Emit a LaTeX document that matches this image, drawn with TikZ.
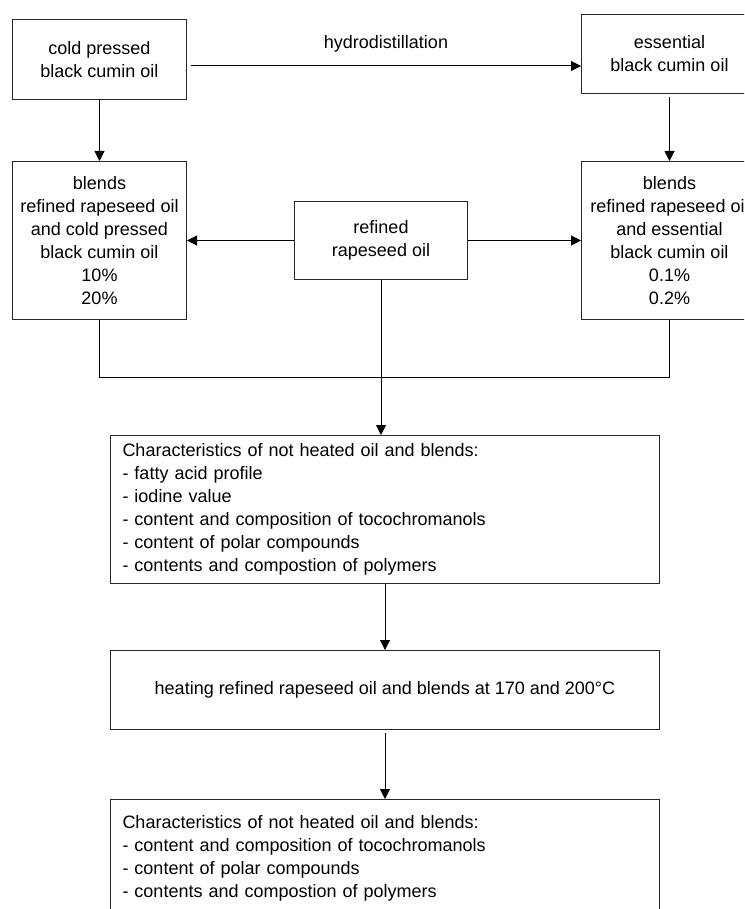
\documentclass[tikz,border=0pt]{standalone}
\usepackage{fontspec}
\setmainfont{Liberation Sans}
\usetikzlibrary{arrows.meta, positioning}
\tikzset{
  box/.style={rectangle, draw=black!85, line width=1pt, anchor=north west,
    align=center, inner sep=0pt, font=\fontsize{18}{23}\selectfont},
  boxL/.style={box, align=left, inner xsep=12pt, text width=525pt},
  arr/.style={-{Triangle[length=10pt, width=10pt]}, line width=1pt},
  ln/.style={line width=1pt},
}
\begin{document}
\begin{tikzpicture}[x=1pt, y=-1pt]
  \clip (0,0) rectangle (744,909);

  % ---- Oils at top ----
  \node[box, minimum width=174pt, minimum height=80pt] (cold)
        at (12,19) {cold pressed\\black cumin oil};
  \node[box, minimum width=176pt, minimum height=79pt] (ess)
        at (581,14) {essential\\black cumin oil};

  % ---- Blends ----
  \node[box, minimum width=174pt, minimum height=158pt] (blendL)
        at (12,161) {blends\\refined rapeseed oil\\and cold pressed\\black cumin oil\\10\%\\20\%};
  \node[box, minimum width=176pt, minimum height=158pt] (blendR)
        at (581,161) {blends\\refined rapeseed oil\\and essential\\black cumin oil\\0.1\%\\0.2\%};
  \node[box, minimum width=173pt, minimum height=78pt] (rsoil)
        at (294,201) {refined\\rapeseed oil};

  % ---- Analyses ----
  \node[boxL, minimum height=148pt] (char1) at (110,435)
        {Characteristics of not heated oil and blends:\\
         - fatty acid profile\\
         - iodine value\\
         - content and composition of tocochromanols\\
         - content of polar compounds\\
         - contents and compostion of polymers};
  \node[box, minimum width=549pt, minimum height=79pt] (heat) at (110,650)
        {heating refined rapeseed oil and blends at 170 and 200°C};
  \node[boxL, minimum height=118pt] (char2) at (110,799)
        {Characteristics of not heated oil and blends:\\
         - content and composition of tocochromanols\\
         - content of polar compounds\\
         - contents and compostion of polymers};

  % ---- Arrows ----
  \draw[arr] ([xshift=4pt, yshift=-6.5pt]cold.east)
        -- ([yshift=-6.5pt]cold.east -| ess.west)
        node[midway, above=10pt] {\fontsize{18}{23}\selectfont hydrodistillation};
  \draw[arr] (cold)   -- (blendL);
  \draw[arr] ([yshift=-3pt]ess.south) -- (blendR);
  \draw[arr] (rsoil)  -- (blendL);
  \draw[arr] (rsoil)  -- (blendR);
  \draw[ln]  (blendL.south) -- ++(0,57) -| (blendR.south);
  \draw[arr] (rsoil.south) -- (rsoil.south |- char1.north);
  \draw[arr] (char1) -- (heat);
  \draw[arr] ([yshift=-3pt]heat.south) -- (char2.north);
\end{tikzpicture}
\end{document}
